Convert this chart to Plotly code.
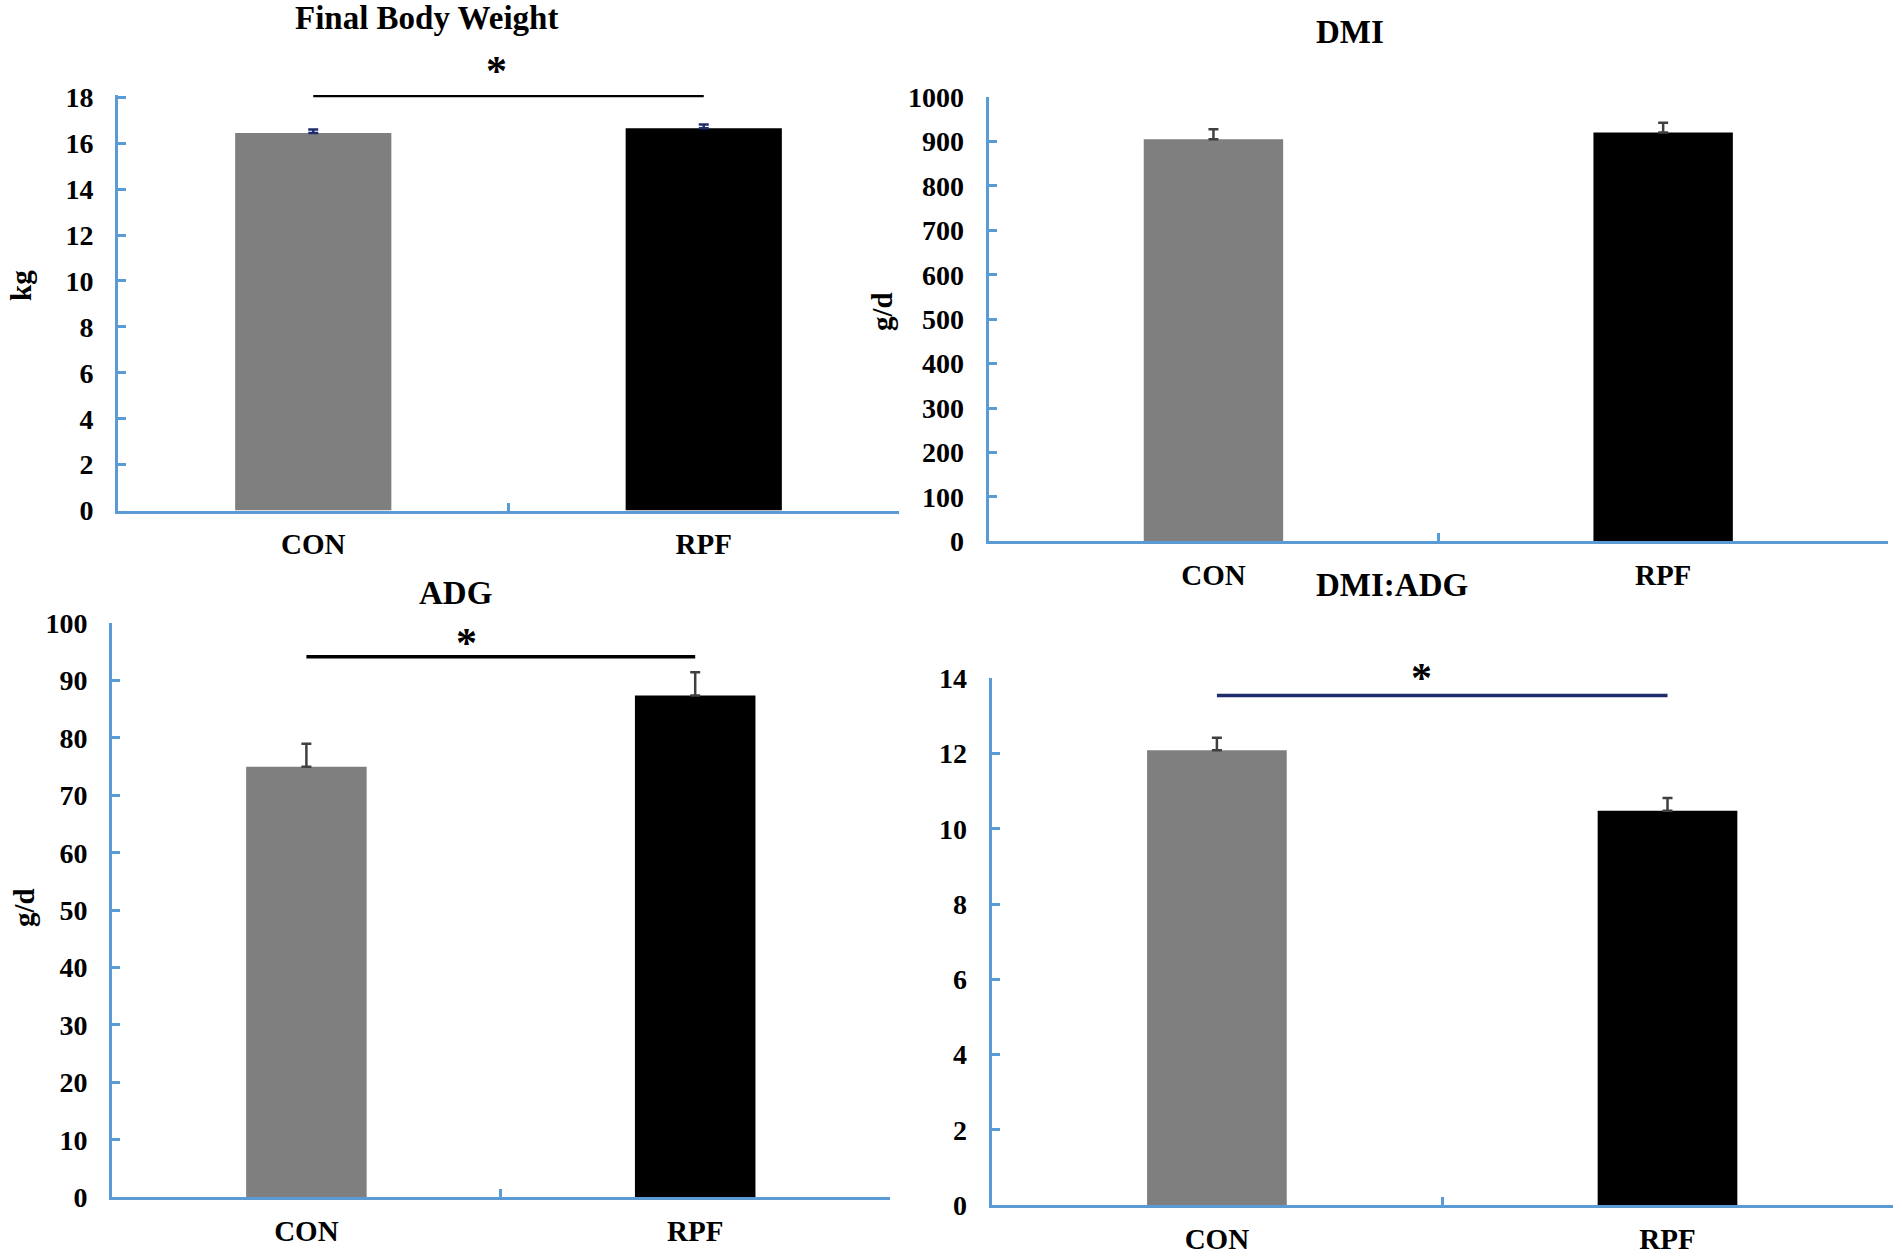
import plotly.graph_objects as go

W, H = 1902, 1256

# data
groups = ["CON", "RPF"]
bar_colors = ["#7f7f7f", "#000000"]

fbw_mean = [16.45, 16.65]
fbw_err = [0.15, 0.17]
dmi_mean = [905, 920]
dmi_err = [22, 22]
adg_mean = [75.0, 87.4]
adg_err = [4.0, 4.05]
ratio_mean = [12.09, 10.48]
ratio_err = [0.33, 0.34]

# significance bar heights, None = no bar
sig_heights = [18.08, None, 94.15, 13.54]

AXIS_BLUE = "#5b9bd5"
NAVY = "#1f2d6e"
FONT = "Liberation Serif"


def px_x(a, b):
    return [a / W, b / W]


def px_y(top, bottom):
    return [1 - bottom / H, 1 - top / H]


panels = [
    dict(title="Final Body Weight", mean=fbw_mean, err=fbw_err, xd=(118, 899), yd=(95, 510.6),
         rng=[0, 18.1], dtick=2, bw=0.4, tpos=(426, 18), ylab="kg", ylpos=(21, 286),
         errc=NAVY, sigc="#000000", starx=0.468, stary=24),
    dict(title="DMI", mean=dmi_mean, err=dmi_err, xd=(988.6, 1888), yd=(96.9, 541.4),
         rng=[0, 1000], dtick=100, bw=0.31, tpos=(1350, 32), ylab="g/d", ylpos=(882, 312),
         errc="#404040", sigc="#000000", starx=0.5, stary=0),
    dict(title="ADG", mean=adg_mean, err=adg_err, xd=(112, 889.6), yd=(623.1, 1197.2),
         rng=[0, 100], dtick=10, bw=0.31, tpos=(455, 593), ylab="g/d", ylpos=(24, 908),
         errc="#404040", sigc="#000000", starx=0.413, stary=14),
    dict(title="DMI:ADG", mean=ratio_mean, err=ratio_err, xd=(991.6, 1892.8), yd=(678.3, 1205),
         rng=[0, 14], dtick=2, bw=0.31, tpos=(1392, 585), ylab=None, ylpos=None,
         errc="#404040", sigc=NAVY, starx=0.455, stary=18),
]

fig = go.Figure()
annotations = []

for i, p in enumerate(panels):
    n = "" if i == 0 else str(i + 1)
    xa, ya = "x" + n, "y" + n

    fig.add_trace(go.Bar(
        x=groups, y=p["mean"], width=p["bw"], marker=dict(color=bar_colors, line=dict(width=0)),
        error_y=dict(type="data", array=p["err"], symmetric=False, arrayminus=[0, 0],
                     color=p["errc"], thickness=2.5, width=5),
        xaxis=xa, yaxis=ya, showlegend=False,
    ))

    if sig_heights[i] is not None:
        fig.add_trace(go.Scatter(
            x=groups, y=[sig_heights[i]] * 2, mode="lines",
            line=dict(color=p["sigc"], width=3.5), xaxis=xa, yaxis=ya,
            showlegend=False, cliponaxis=False,
        ))
        # asterisk sits a few pixels above the bar
        annotations.append(dict(
            x=p["starx"], y=sig_heights[i], xref=xa, yref=ya, text="*", showarrow=False,
            yanchor="middle", yshift=p["stary"],
            font=dict(family=FONT, size=42, color="black", weight="bold"),
        ))

    axis_common = dict(showline=True, linecolor=AXIS_BLUE, linewidth=3, ticks="inside",
                       ticklen=8, tickwidth=3, tickcolor=AXIS_BLUE, showgrid=False,
                       zeroline=False, fixedrange=True, automargin=False)
    fig.layout[("xaxis" + n)] = dict(
        domain=px_x(*p["xd"]), anchor=ya, tickson="boundaries", ticklabelstandoff=6,
        tickfont=dict(family=FONT, size=29, color="black", weight="bold"), **axis_common)
    fig.layout[("yaxis" + n)] = dict(
        domain=px_y(*p["yd"]), anchor=xa, range=p["rng"], dtick=p["dtick"], tick0=0,
        ticklabelstandoff=16,
        tickfont=dict(family=FONT, size=28, color="black", weight="bold"), **axis_common)

    annotations.append(dict(
        x=p["tpos"][0] / W, y=1 - p["tpos"][1] / H, xref="paper", yref="paper",
        text=p["title"], showarrow=False, xanchor="center", yanchor="middle",
        font=dict(family=FONT, size=33, color="black", weight="bold"),
    ))
    if p["ylab"]:
        annotations.append(dict(
            x=p["ylpos"][0] / W, y=1 - p["ylpos"][1] / H, xref="paper", yref="paper",
            text=p["ylab"], showarrow=False, textangle=-90, xanchor="center", yanchor="middle",
            font=dict(family=FONT, size=29, color="black", weight="bold"),
        ))

fig.update_layout(
    width=W, height=H, margin=dict(l=0, r=0, t=0, b=0, autoexpand=False),
    paper_bgcolor="white", plot_bgcolor="white",
    annotations=annotations, showlegend=False,
)

fig.write_html("out.html", config={"displayModeBar": False},
               post_script="document.body.style.margin = '0px';")
